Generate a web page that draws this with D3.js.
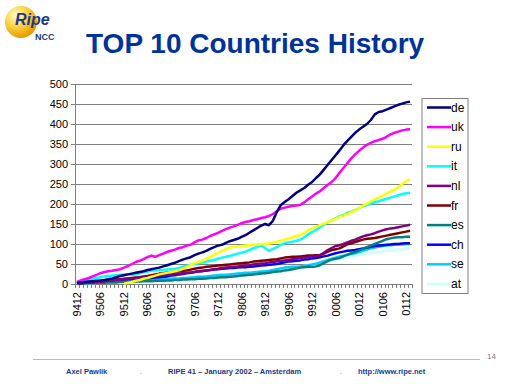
<!DOCTYPE html>
<html><head><meta charset="utf-8">
<script src="https://cdn.jsdelivr.net/npm/d3@7"></script>
<style>body{margin:0;background:#fff}svg{display:block}text{font-family:"Liberation Sans",Arial,sans-serif}</style>
</head><body><svg id="c" width="512" height="384"></svg>
<script>
const months = [];
(function(){ let y=94,m=12; for(let i=0;i<86;i++){ months.push(String(y%100).padStart(2,"0")+String(m).padStart(2,"0")); m++; if(m>12){m=1;y++;} } })();
const tickLabels = ["9412","9506","9512","9606","9612","9706","9712","9806","9812","9906","9912","0006","0012","0106","0112"];
const countries = ["de","uk","ru","it","nl","fr","es","ch","se","at"];
const colors = ["#000080","#FF00FF","#FFFF00","#00FFFF","#800080","#800000","#008080","#0000FF","#00CCFF","#CCFFFF"];
const N = null;
const de = [3,4,5,6,7,8,9,10,12,14,17,20,22,24,26,28,30,32,35,37,39,41,44,47,50,53,57,61,64,67,72,76,79,83,88,92,96,98,103,107,110,113,118,122,128,134,140,146,150,147,158,180,197,205,212,220,228,234,240,248,255,265,274,286,298,310,322,334,347,358,368,378,386,393,400,410,424,430,432,436,440,444,448,451,454,456];
const uk = [5,9,12,15,19,23,27,30,32,33,35,37,41,45,50,55,58,62,67,71,68,72,76,80,83,86,90,92,96,98,104,109,111,115,120,124,128,133,137,141,144,148,152,155,157,160,162,165,167,170,175,182,188,191,193,195,196,198,204,212,219,226,232,240,248,255,265,278,290,302,314,324,333,341,348,353,357,360,363,368,374,378,381,384,386,387];
const ru = [N,N,N,N,N,N,N,N,N,N,N,N,1,3,5,8,10,13,15,18,21,24,26,28,30,32,34,38,42,47,52,55,58,63,68,73,78,83,87,91,93,94,95,96,97,98,99,100,100,101,103,106,108,111,114,117,120,123,128,134,139,143,147,151,155,159,163,167,171,175,179,184,190,196,201,207,212,216,221,226,231,236,242,250,257,262];
const it = [2,5,8,10,13,15,17,19,20,21,22,23,24,24,23,24,27,29,31,33,34,35,35,36,37,38,40,43,46,48,50,52,54,56,58,60,63,66,68,70,73,76,78,81,85,89,93,96,90,83,88,92,98,102,104,106,108,111,117,124,130,135,142,148,154,159,164,169,173,178,181,185,190,194,198,201,205,207,210,213,216,219,222,225,227,228];
const nl = [1,2,3,3,4,5,6,7,8,9,10,11,12,13,14,15,16,17,18,19,20,21,22,23,24,25,26,27,28,29,30,32,33,34,35,37,38,40,41,42,43,44,45,46,47,49,50,51,52,54,55,57,58,59,60,62,63,65,66,67,69,70,72,78,85,90,95,97,100,104,108,111,115,119,122,124,127,131,134,137,139,140,142,144,146,148];
const fr = [1,2,3,4,5,6,7,8,9,10,11,12,13,14,15,16,17,19,20,22,24,26,27,29,30,31,32,33,34,36,38,40,41,43,44,45,46,47,48,49,50,51,52,53,54,56,57,58,59,60,61,62,64,66,67,68,68,69,70,71,71,72,72,76,81,85,87,89,94,99,102,105,108,111,113,114,115,117,119,121,123,125,127,129,131,133];
const es = [0,1,1,2,2,3,3,3,4,4,4,5,5,5,6,6,6,7,7,7,8,8,8,9,9,10,10,11,11,12,12,13,13,14,15,15,16,17,17,18,19,20,21,22,23,24,25,26,27,28,30,31,32,34,35,37,39,41,42,43,43,44,47,52,57,61,63,65,69,73,77,80,84,88,92,96,100,104,108,112,114,116,117,117,118,118];
const ch = [1,2,3,4,5,6,7,8,8,9,10,10,11,11,12,12,13,13,14,15,16,17,18,19,21,22,24,25,27,28,30,31,32,34,35,36,37,38,39,40,40,41,42,42,43,44,45,46,47,48,49,50,52,54,56,57,58,59,61,62,64,65,67,69,71,74,77,79,81,83,84,85,87,89,91,93,95,96,97,98,99,100,100,101,102,102];
const se = [1,2,3,3,4,5,5,6,6,7,7,8,8,9,9,10,10,11,11,12,12,12,13,13,13,14,14,15,15,16,17,18,18,19,20,21,22,23,23,24,25,26,27,28,28,29,30,31,32,33,35,37,39,41,42,43,43,44,45,47,49,51,54,57,60,63,66,69,71,73,75,77,80,83,86,89,91,93,95,96,97,98,99,99,100,100];
const at = [0,1,1,2,2,3,3,4,4,5,5,6,6,7,7,8,8,9,9,10,10,11,11,12,12,13,14,14,15,16,16,17,18,18,19,20,21,21,22,23,24,24,25,26,27,28,29,30,31,32,33,34,35,37,38,40,42,43,45,47,49,51,53,55,57,59,61,63,65,67,69,71,73,75,77,78,79,80,82,83,84,85,86,87,88,89];
const seriesValues = [de,uk,ru,it,nl,fr,es,ch,se,at];
const yTicks = [0,50,100,150,200,250,300,350,400,450,500];

const svg = d3.select("#c");
// logo
const defs = svg.append("defs");
const rg = defs.append("radialGradient").attr("id","ball").attr("cx","35%").attr("cy","30%").attr("r","70%");
rg.append("stop").attr("offset","0%").attr("stop-color","#fffbe0");
rg.append("stop").attr("offset","45%").attr("stop-color","#ffd84a");
rg.append("stop").attr("offset","100%").attr("stop-color","#e89a00");
svg.append("circle").attr("cx",21).attr("cy",22).attr("r",16).attr("fill","url(#ball)");
svg.append("text").attr("x",15).attr("y",25).attr("font-size",16).attr("font-weight","bold").attr("font-style","italic").attr("fill","#1a3a8c").text("Ripe");
svg.append("text").attr("x",35).attr("y",40).attr("font-size",9).attr("font-weight","bold").attr("fill","#1a3a8c").text("NCC");
// title
svg.append("text").attr("x",86).attr("y",53).attr("font-size",28).attr("font-weight","bold").attr("fill","#003399").text("TOP 10 Countries History");

const x = d3.scaleBand().domain(months).range([75,412]);
const y = d3.scaleLinear().domain([0,500]).range([284,84]);
const g = svg.append("g");
// gridlines
g.selectAll("line.grid").data(yTicks.filter(d=>d>0)).join("line")
 .attr("x1",75).attr("x2",412).attr("y1",d=>y(d)).attr("y2",d=>y(d))
 .attr("stroke","#808080").attr("stroke-width",1).attr("shape-rendering","crispEdges");
// y axis
const ya = g.append("g").attr("transform","translate(75,0)").call(d3.axisLeft(y).tickValues(yTicks).tickSize(4).tickPadding(3));
ya.selectAll("path,line").attr("stroke","#808080").attr("shape-rendering","crispEdges");
ya.selectAll("text").attr("font-size",11).attr("font-family","Liberation Sans, Arial").attr("fill","#000");
// x axis
const xa = g.append("g").attr("transform","translate(0,284)");
xa.append("line").attr("x1",75).attr("x2",412).attr("stroke","#808080").attr("shape-rendering","crispEdges");
xa.selectAll("line.t").data(d3.range(87)).join("line")
 .attr("x1",i=>Math.round(75+i*x.bandwidth())+0.5).attr("x2",i=>Math.round(75+i*x.bandwidth())+0.5)
 .attr("y1",0).attr("y2",4).attr("stroke","#808080");
xa.selectAll("text").data(tickLabels).join("text")
 .attr("transform",d=>`translate(${x(d)+x.bandwidth()/2+4},8) rotate(-90)`)
 .attr("text-anchor","end").attr("font-size",11).attr("fill","#000").text(d=>d);
// lines
const line = d3.line().defined(d=>d.v!==null).x(d=>x(d.m)+x.bandwidth()/2).y(d=>y(d.v));
for(let k=countries.length-1;k>=0;k--){
  const data = months.map((m,i)=>({m,v:seriesValues[k][i]}));
  g.append("path").datum(data).attr("d",line).attr("fill","none")
   .attr("stroke",colors[k]).attr("stroke-width",2.5).attr("stroke-linejoin","round");
}
// legend
const lg = svg.append("g");
lg.append("rect").attr("x",422).attr("y",98.5).attr("width",46).attr("height",195).attr("fill","#fff").attr("stroke","#808080");
countries.forEach((c,i)=>{
  const yy = 107.5 + i*19.6;
  lg.append("line").attr("x1",427).attr("x2",451).attr("y1",yy).attr("y2",yy).attr("stroke",colors[i]).attr("stroke-width",2.5);
  lg.append("text").attr("x",451).attr("y",yy+4).attr("font-size",12).attr("fill","#000").text(c);
});
// footer
svg.append("line").attr("x1",33).attr("x2",480).attr("y1",359.5).attr("y2",359.5).attr("stroke","#f2c200").attr("stroke-width",1);
svg.append("text").attr("x",487).attr("y",359).attr("font-size",8).attr("fill","#777").text("14");
const ft = [["Axel Pawlik",66],["RIPE 41 – January 2002 – Amsterdam",168],["http://www.ripe.net",358]];
ft.forEach(([t,xx])=>svg.append("text").attr("x",xx).attr("y",374).attr("font-size",7.5).attr("font-weight","bold").attr("fill","#1a3a8c").text(t));
[140,340].forEach(xx=>svg.append("text").attr("x",xx).attr("y",374).attr("font-size",8).attr("font-weight","bold").attr("fill","#f2c200").text("."));
</script></body></html>
